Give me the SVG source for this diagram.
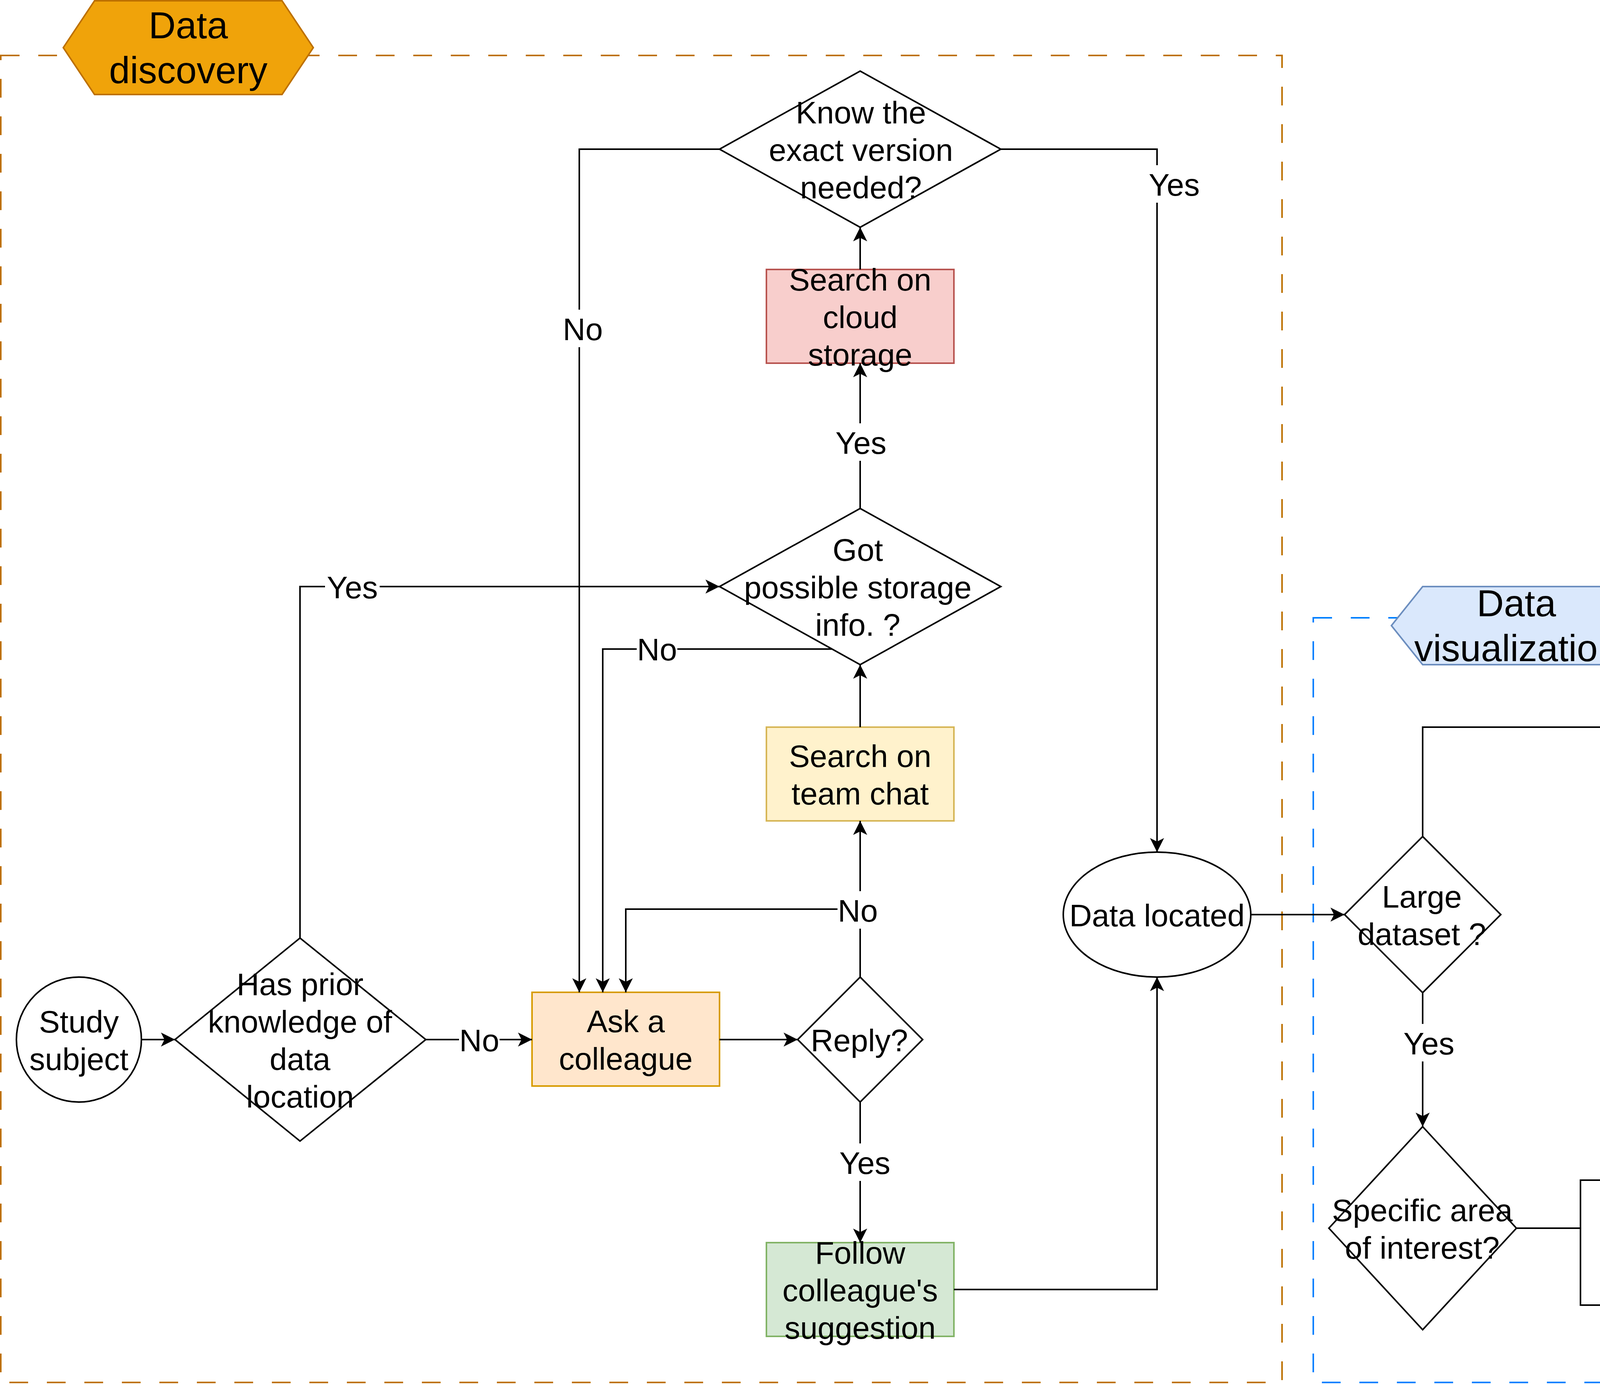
<svg xmlns="http://www.w3.org/2000/svg" width="6644" height="3544" viewBox="0 0 6644 3544">
<style>
.t{font-family:'Liberation Sans',Arial,Helvetica,sans-serif;font-size:80px;text-anchor:middle;fill:#000}
.n{fill:#fff;stroke:#000;stroke-width:4}
.e{fill:none;stroke:#000;stroke-width:4;marker-end:url(#arr)}
.j{fill:none;stroke:#000;stroke-width:4}
.lb{fill:#fff;stroke:none}
.red{fill:#f8cecc;stroke:#b85450;stroke-width:4}
.yel{fill:#fff2cc;stroke:#d6b656;stroke-width:4}
.grn{fill:#d5e8d4;stroke:#82b366;stroke-width:4}
.org{fill:#ffe6cc;stroke:#d79b00;stroke-width:4}
</style>
<defs>
<marker id="arr" markerUnits="userSpaceOnUse" markerWidth="40" markerHeight="40" viewBox="-38 -20 40 40" refX="0" refY="0" orient="auto">
<path d="M0,0 L-36,-18 L-27,0 L-36,18 Z" fill="#000"/>
</marker>
</defs>
<rect width="6644" height="3544" fill="#fff"/>

<g id="container-discovery">
<rect x="2" y="142" width="3280" height="3398" fill="none" stroke="#BD7000" stroke-width="4" stroke-dasharray="48 48"/>
<polygon points="162,122 242,2 722,2 802,122 722,242 242,242" fill="#f0a30a" stroke="#BD7000" stroke-width="4"/>
<text class="t" style="font-size:96px" x="482" y="98">Data</text>
<text class="t" style="font-size:96px" x="482" y="213">discovery</text>
</g>

<g id="container-visualization">
<rect x="3362" y="1582" width="3280" height="1958" fill="none" stroke="#007FFF" stroke-width="4" stroke-dasharray="48 48"/>
<polygon points="3562,1602 3642,1502 4122,1502 4202,1602 4122,1702 3642,1702" fill="#dae8fc" stroke="#6c8ebf" stroke-width="4"/>
<text class="t" style="font-size:96px" x="3882" y="1578">Data</text>
<text class="t" style="font-size:96px" x="3882" y="1693">visualization</text>
</g>

<g id="legend">
<rect x="4202" y="242" width="1640" height="960" fill="#fff" stroke="#000" stroke-width="4"/>
<text class="t" style="font-size:96px;font-weight:bold" x="5004" y="357">Legend</text>
<text class="t" style="font-size:88px;text-anchor:start;text-decoration:underline" x="4207" y="535" xml:space="preserve"> Process categories:</text>
<rect class="red" x="4243" y="667" width="80" height="80"/>
<rect class="yel" x="4243" y="778" width="80" height="80"/>
<rect class="grn" x="4243" y="889" width="80" height="80"/>
<rect class="org" x="4243" y="1000" width="80" height="80"/>
<text class="t" style="font-size:88px;text-anchor:start" x="4356" y="746">Very time-consuming</text>
<text class="t" style="font-size:88px;text-anchor:start" x="4356" y="852">Somehow time-consuming</text>
<text class="t" style="font-size:88px;text-anchor:start" x="4356" y="957">Not particularly time-consuming</text>
<text class="t" style="font-size:88px;text-anchor:start" x="4356" y="1063">High uncertainty of time consumption</text>
</g>

<g id="study-subject">
<circle class="n" cx="202" cy="2662" r="160"/>
<text class="t" x="202" y="2644">Study</text>
<text class="t" x="202" y="2740">subject</text>
</g>

<g id="has-prior">
<polygon class="n" points="768,2402 1090,2662 768,2922 448,2662"/>
<text class="t" x="768" y="2548">Has prior</text>
<text class="t" x="768" y="2644">knowledge of</text>
<text class="t" x="768" y="2740">data</text>
<text class="t" x="768" y="2836">location</text>
</g>

<g id="ask-colleague">
<rect class="org" x="1362" y="2541" width="480" height="240"/>
<text class="t" x="1602" y="2643">Ask a</text>
<text class="t" x="1602" y="2739">colleague</text>
</g>

<g id="reply">
<polygon class="n" points="2202,2502 2362,2662 2202,2822 2042,2662"/>
<text class="t" x="2200" y="2692">Reply?</text>
</g>

<g id="search-team-chat">
<rect class="yel" x="1962" y="1862" width="480" height="240"/>
<text class="t" x="2202" y="1964">Search on</text>
<text class="t" x="2202" y="2060">team chat</text>
</g>

<g id="follow-suggestion">
<rect class="grn" x="1962" y="3182" width="480" height="240"/>
<text class="t" x="2202" y="3236">Follow</text>
<text class="t" x="2202" y="3332">colleague's</text>
<text class="t" x="2202" y="3428">suggestion</text>
</g>

<g id="data-located">
<ellipse class="n" cx="2962" cy="2342" rx="240" ry="160"/>
<text class="t" x="2962" y="2372">Data located</text>
</g>

<g id="got-storage-info">
<polygon class="n" points="2202,1302 2562,1502 2202,1702 1842,1502"/>
<text class="t" x="2196" y="1436">Got</text>
<text class="t" x="2196" y="1532">possible storage</text>
<text class="t" x="2196" y="1628">info. ?</text>
</g>

<g id="search-cloud">
<rect class="red" x="1962" y="690" width="480" height="240"/>
<text class="t" x="2202" y="744">Search on</text>
<text class="t" x="2202" y="840">cloud</text>
<text class="t" x="2202" y="936">storage</text>
</g>

<g id="know-version">
<polygon class="n" points="2202,182 2562,382 2202,582 1842,382"/>
<text class="t" x="2204" y="316">Know the</text>
<text class="t" x="2204" y="412">exact version</text>
<text class="t" x="2204" y="508">needed?</text>
</g>

<g id="large-dataset">
<polygon class="n" points="3642,2142 3842,2342 3642,2542 3442,2342"/>
<text class="t" x="3640" y="2324">Large</text>
<text class="t" x="3640" y="2420">dataset ?</text>
</g>

<g id="specific-area">
<polygon class="n" points="3642,2885 3882,3145 3642,3405 3402,3145"/>
<text class="t" x="3641" y="3127">Specific area</text>
<text class="t" x="3641" y="3223">of interest?</text>
</g>

<g id="download-clipped">
<rect class="yel" x="4566" y="2902" width="480" height="240"/>
<text class="t" x="4806" y="3004">Download</text>
<text class="t" x="4806" y="3100">clipped data</text>
</g>

<g id="download-complete">
<rect class="red" x="4566" y="3222" width="480" height="240"/>
<text class="t" x="4806" y="3276">Download</text>
<text class="t" x="4806" y="3372">complete</text>
<text class="t" x="4806" y="3468">data</text>
</g>

<g id="file-overviews">
<polygon class="n" points="5402,2102 5822,2402 5402,2702 4982,2402"/>
<text class="t" x="5398" y="2288">File has</text>
<text class="t" x="5398" y="2384">overviews for</text>
<text class="t" x="5398" y="2480">optimized</text>
<text class="t" x="5398" y="2576">visualization</text>
</g>

<g id="visualize-qgis-yellow">
<rect class="yel" x="6122" y="2022" width="480" height="320"/>
<text class="t" x="6362" y="2116">Visualize</text>
<text class="t" x="6362" y="2212">data on</text>
<text class="t" x="6362" y="2308">QGIS</text>
</g>

<g id="visualize-qgis-green">
<rect class="grn" x="5682" y="2702" width="480" height="320"/>
<text class="t" x="5922" y="2796">Visualize</text>
<text class="t" x="5922" y="2892">data on</text>
<text class="t" x="5922" y="2988">QGIS</text>
</g>

<g id="data-visualized">
<ellipse class="n" cx="6362" cy="3182" rx="240" ry="160"/>
<text class="t" x="6362" y="3164">Data</text>
<text class="t" x="6362" y="3260">visualized</text>
</g>

<g id="connectors">
<path class="e" d="M362,2662 H448"/>
<path class="e" d="M1090,2662 H1362"/>
<path class="e" d="M768,2402 V1502 H1842"/>
<path class="e" d="M1842,2662 H2042"/>
<path class="e" d="M2202,2502 V2102"/>
<path class="e" d="M2202,2328 H1602 V2541"/>
<path class="e" d="M2202,2822 V3182"/>
<path class="e" d="M2442,3302 H2962 V2502"/>
<path class="e" d="M2202,1862 V1702"/>
<path class="e" d="M2202,1302 V930"/>
<path class="e" d="M2130,1662 H1543 V2541"/>
<path class="e" d="M2202,690 V582"/>
<path class="e" d="M1842,382 H1483 V2541"/>
<path class="e" d="M2562,382 H2962 V2182"/>
<path class="e" d="M3202,2342 H3442"/>
<path class="e" d="M3642,2142 V1862 H5402 V2102"/>
<path class="e" d="M3642,2542 V2885"/>
<path class="e" d="M3882,3145 H4046 V3022 H4566"/>
<path class="e" d="M4046,3145 V3342 H4566"/>
<path class="j" d="M4806,2902 V2802 H5402"/>
<path class="e" d="M5046,3342 H5404 V2702"/>
<path class="e" d="M5822,2402 H5922 V2182 H6122"/>
<path class="e" d="M5822,2402 H5902 V2576 H5922 V2702"/>
<path class="e" d="M6362,2342 V3022"/>
<path class="j" d="M6162,2862 H6362"/>

<g id="labels">
<rect class="lb" x="1175" y="2614" width="104" height="96"/><text class="t" x="1227" y="2692">No</text>
<rect class="lb" x="832" y="1454" width="140" height="96"/><text class="t" x="902" y="1532">Yes</text>
<rect class="lb" x="2144" y="2282" width="104" height="96"/><text class="t" x="2196" y="2360">No</text>
<rect class="lb" x="2144" y="2928" width="140" height="96"/><text class="t" x="2214" y="3006">Yes</text>
<rect class="lb" x="2134" y="1084" width="140" height="96"/><text class="t" x="2204" y="1162">Yes</text>
<rect class="lb" x="1630" y="1613" width="104" height="96"/><text class="t" x="1682" y="1691">No</text>
<rect class="lb" x="1440" y="793" width="104" height="96"/><text class="t" x="1492" y="871">No</text>
<rect class="lb" x="2936" y="423" width="140" height="96"/><text class="t" x="3006" y="501">Yes</text>
<rect class="lb" x="4452" y="1814" width="104" height="96"/><text class="t" x="4504" y="1892">No</text>
<rect class="lb" x="3588" y="2622" width="140" height="96"/><text class="t" x="3658" y="2700">Yes</text>
<rect class="lb" x="4225" y="2976" width="140" height="96"/><text class="t" x="4295" y="3054">Yes</text>
<rect class="lb" x="4250" y="3294" width="104" height="96"/><text class="t" x="4302" y="3372">No</text>
<rect class="lb" x="5955" y="2134" width="104" height="96"/><text class="t" x="6007" y="2212">No</text>
<rect class="lb" x="5856" y="2528" width="140" height="96"/><text class="t" x="5926" y="2606">Yes</text>
</g>
</g>
</svg>
